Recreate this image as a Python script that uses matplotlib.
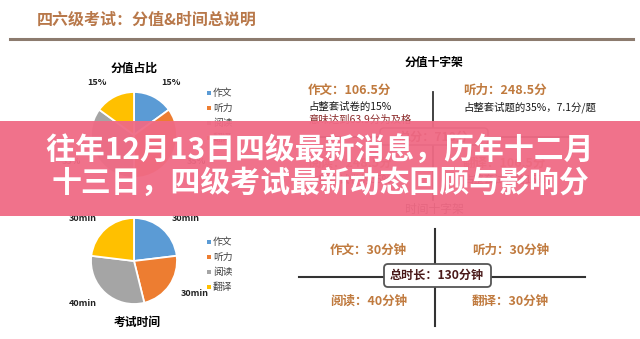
import matplotlib
matplotlib.use("Agg")
import matplotlib.pyplot as plt
from matplotlib.patches import Rectangle, FancyBboxPatch

plt.rcParams['font.family'] = ['Noto Sans CJK SC', 'DejaVu Sans']

# data
SECTIONS = ['作文', '听力', '阅读', '翻译']
SCORE_PCT = [15, 35, 35, 15]
SCORE_PTS = ['106.5', '248.5', '248.5', '106.5']
SCORE_NOTES = ['占整套试卷的15%', '占整套试题的35%，7.1分/题',
               '占整套试卷的35%', '占整套试卷的15%']
TOTAL_SCORE = 710
MINUTES = [30, 30, 40, 30]
COLORS = ['#5B9BD5', '#ED7D31', '#A5A5A5', '#FFC000']

HEADER = '四六级考试：分值&时间总说明'
BANNER = ['往年12月13日四级最新消息，历年十二月', '十三日，四级考试最新动态回顾与影响分']

W, H = 640, 339
fig = plt.figure(figsize=(W / 100, H / 100), dpi=100)
fig.patch.set_facecolor('white')

BROWN = '#C07A3E'


def pie_axes(cx, cy, r, pad=1.5):
    side = 2 * r * pad
    a = fig.add_axes([(cx - r * pad) / W, 1 - (cy + r * pad) / H, side / W, side / H])
    a.set_zorder(1)
    return a, pad


def draw_pie(cx, cy, r, values, labels, dist):
    a, pad = pie_axes(cx, cy, r)
    a.pie(values, colors=COLORS, startangle=90, counterclock=False, radius=1,
          labels=labels, labeldistance=dist,
          wedgeprops=dict(edgecolor='white', linewidth=1.3),
          textprops=dict(fontsize=6.5, fontweight='bold', color='#222222'))
    a.set_xlim(-pad, pad)
    a.set_ylim(-pad, pad)
    a.axis('off')


draw_pie(134, 135, 43, SCORE_PCT, [f'{v}%' for v in SCORE_PCT], 1.38)
draw_pie(134, 261, 43, MINUTES, [f'{v}min' for v in MINUTES], 1.32)

# overlay in pixel coordinates
ax = fig.add_axes([0, 0, 1, 1])
ax.set_zorder(2)
ax.set_xlim(0, W)
ax.set_ylim(H, 0)
ax.axis('off')
ax.patch.set_alpha(0)

ax.text(37, 20, HEADER, fontsize=11.5, fontweight='bold', color='#B8784A', va='center')
ax.plot([10, 633], [38.5, 38.5], color='#8C7B6E', lw=2.2)

# pie titles and legends
ax.text(134, 68, '分值占比', fontsize=8.5, fontweight='bold', ha='center', va='center')
ax.text(137, 322, '考试时间', fontsize=8.5, fontweight='bold', ha='center', va='center')
for y0 in (93, 242):
    ys = [y0 + i * 15 for i in range(len(SECTIONS))]
    ax.scatter([209] * len(SECTIONS), ys, marker='s', s=9, c=COLORS, linewidths=0)
    for y, name in zip(ys, SECTIONS):
        ax.text(213, y, name, fontsize=7, color='#404040', va='center')

# score cross
ax.text(434, 62, '分值十字架', fontsize=8.5, fontweight='bold', ha='center', va='center')
ax.plot([433, 433], [92, 200], color='#333333', lw=1.3)
ax.plot([300, 573], [137, 137], color='#333333', lw=1.3)
pos = [(308, 90), (463, 90), (308, 163), (463, 163)]
for (x, y), name, pts, note in zip(pos, SECTIONS, SCORE_PTS, SCORE_NOTES):
    ax.text(x, y, f'{name}：{pts}分', fontsize=9, fontweight='bold', color=BROWN, va='center')
    ax.text(x, y + 17, note, fontsize=7.5, color='#1a1a1a', va='center')
ax.text(308, 120, '意味达到63.9分为及格', fontsize=7.5, color='#8B2A2A', va='center')
ax.add_patch(FancyBboxPatch((380, 128), 108, 17, boxstyle='round,pad=0,rounding_size=4',
                            fc='white', ec='#666666', lw=1.1, zorder=3))
ax.text(434, 137, f'总分：{TOTAL_SCORE}分', fontsize=8.7, fontweight='bold',
        color='#8B3A2A', ha='center', va='center', zorder=4)

# time cross
ax.text(434, 210, '时间十字架', fontsize=8.5, color='#333333', ha='center', va='center')
ax.plot([435, 435], [229, 326], color='#333333', lw=1.5)
ax.plot([299, 585], [277, 277], color='#333333', lw=1.5)
tpos = [(330, 250), (472, 250), (330, 301), (472, 301)]
for (x, y), name, m in zip(tpos, SECTIONS, MINUTES):
    ax.text(x, y, f'{name}：{m}分钟', fontsize=9, fontweight='bold', color=BROWN, va='center')
ax.add_patch(FancyBboxPatch((384, 264), 107, 23, boxstyle='round,pad=0,rounding_size=4',
                            fc='white', ec='#555555', lw=1.3, zorder=3))
ax.text(437, 275.5, f'总时长：{sum(MINUTES)}分钟', fontsize=8.7, fontweight='bold',
        color='#4A1A1A', ha='center', va='center', zorder=4)

# pink banner with title
ax.add_patch(Rectangle((0, 121), W, 95, fc='#F06A85', alpha=0.95, lw=0, zorder=10))
ax.text(320, 150, BANNER[0], fontsize=21.5, fontweight='bold', color='white',
        ha='center', va='center', zorder=11)
ax.text(320, 183, BANNER[1], fontsize=21.5, fontweight='bold', color='white',
        ha='center', va='center', zorder=11)

fig.savefig('out.png', dpi=100, facecolor='white')
